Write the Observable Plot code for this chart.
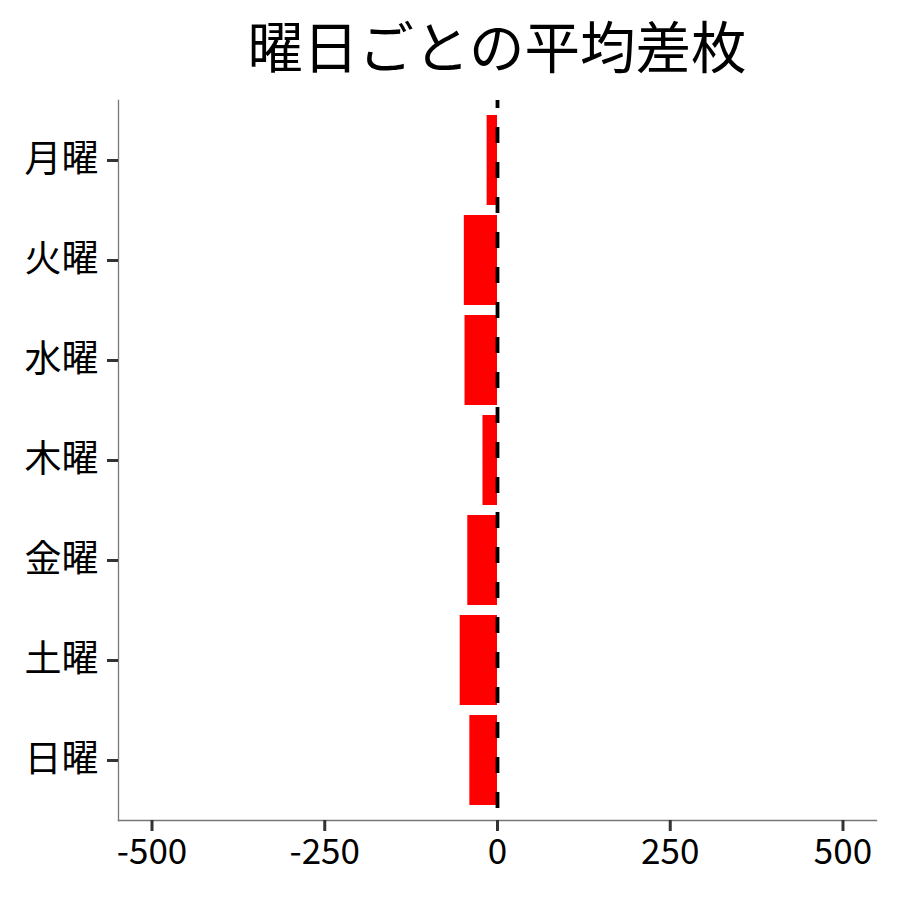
<!DOCTYPE html>
<html>
<head>
<meta charset="utf-8">
<script src="https://cdn.jsdelivr.net/npm/d3@7"></script>
<script src="https://cdn.jsdelivr.net/npm/@observablehq/plot@0.6"></script>
<style>
  body { margin: 0; background: #fff; font-family: "Noto Sans CJK JP", sans-serif; }
  #title { width: 900px; height: 95px; position: relative; }
  #title span { position: absolute; left: 497px; top: 45px; transform: translate(-50%, -50%);
    font-size: 55.5px; color: #000; white-space: nowrap; line-height: 1; }
</style>
</head>
<body>
<div id="title"><span>曜日ごとの平均差枚</span></div>
<div id="chart"></div>
<script>
const days = ["月曜", "火曜", "水曜", "木曜", "金曜", "土曜", "日曜"];
const avgDiff = [-15, -48, -47, -21, -43, -54, -40];
const xTicks = [-500, -250, 0, 250, 500];
const xDomain = [-548.5, 548.5];

const data = days.map((d, i) => ({day: days[i], value: avgDiff[i]}));

const W = 900, H = 805, mT = 5, mB = 80, mL = 118, mR = 24;
const panelH = H - mT - mB;
const unitsPerPx = (xDomain[1] - xDomain[0]) / (W - mL - mR);
const tickLen = 11;

const chart = Plot.plot({
  width: W,
  height: H,
  marginTop: mT,
  marginBottom: mB,
  marginLeft: mL,
  marginRight: mR,
  style: {fontFamily: "Noto Sans CJK JP, sans-serif", background: "#fff", overflow: "visible", color: "#000"},
  x: {domain: xDomain, ticks: xTicks},
  y: {domain: days, paddingInner: 0.1, paddingOuter: 0.15},
  marks: [
    Plot.barX(data, {x: "value", y: "day", fill: "#FF0000"}),
    Plot.ruleX([0], {stroke: "#000", strokeWidth: 3.8, strokeDasharray: "16,19", strokeDashoffset: 8}),
    Plot.frame({anchor: "left", stroke: "#777", strokeWidth: 1.3}),
    Plot.frame({anchor: "bottom", stroke: "#777", strokeWidth: 1.3}),
    // tick marks
    Plot.ruleY(days, {y: d => d, x1: xDomain[0] - tickLen * unitsPerPx, x2: xDomain[0], stroke: "#333", strokeWidth: 3}),
    Plot.ruleX(xTicks, {x: d => d, insetTop: panelH - tickLen, dy: tickLen, stroke: "#333", strokeWidth: 3}),
    Plot.axisY({tickSize: 0, tickPadding: 20, fontSize: 37, label: null}),
    Plot.axisX({ticks: xTicks, tickSize: 0, tickPadding: 19, fontSize: 35, label: null, tickFormat: d => String(d)})
  ]
});
document.getElementById("chart").appendChild(chart);
</script>
</body>
</html>
